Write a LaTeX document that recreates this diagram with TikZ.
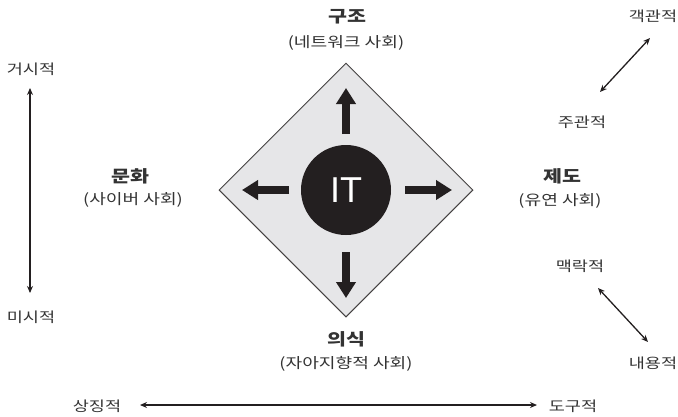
\documentclass[tikz,border=0pt]{standalone}
\usepackage{fontspec}
\usetikzlibrary{arrows.meta,shapes.geometric}
\newfontfamily\kr[FakeStretch=1.25]{Noto Sans CJK KR}
\definecolor{txt}{HTML}{333333}
\definecolor{ink}{HTML}{231F20}
\definecolor{dfill}{HTML}{E6E6E8}
\tikzset{
  title/.style={font=\kr\fontsize{16.5}{16.5}\selectfont\bfseries, text=txt, inner sep=0pt},
  sub/.style={font=\kr\fontsize{14.5}{14.5}\selectfont, text=txt, inner sep=0pt},
  axlab/.style={font=\kr\fontsize{14}{14}\selectfont, text=txt, inner sep=0pt},
  axis/.style={draw=ink, line width=1.3pt, {Stealth[length=7pt,width=6pt]}-{Stealth[length=7pt,width=6pt]}},
  bigarrow/.style={draw=ink, line width=8pt, -{Triangle[length=16pt,width=19pt]}},
}
\begin{document}
\begin{tikzpicture}[x=1pt,y=-1pt]
\useasboundingbox (0,0) rectangle (678,416);
% diamond and IT circle
\node[diamond, draw=ink!85, line width=1pt, fill=dfill, minimum width=254pt, minimum height=254pt, inner sep=0pt, aspect=1] (dia) at (346,190) {};
\node[circle, fill=ink, minimum size=90pt, inner sep=0pt, text=white, font=\fontspec{Liberation Sans}\fontsize{36}{36}\selectfont] (it) at (346,190) {IT};
\coordinate (up) at (346,88);
\coordinate (down) at (346,298);
\coordinate (left) at (242,190);
\coordinate (right) at (452,190);
\coordinate (upS) at (346,134);
\coordinate (downS) at (346,252);
\coordinate (leftS) at (289,190);
\coordinate (rightS) at (405,190);
\draw[bigarrow] (upS) -- (up);
\draw[bigarrow] (downS) -- (down);
\draw[bigarrow] (leftS) -- (left);
\draw[bigarrow] (rightS) -- (right);
% titles
\node[title] (t1) at (347,17) {구조};
\node[sub] (s1) at (346,43) {(네트워크 사회)};
\node[title] (t2) at (130,176) {문화};
\node[sub] (s2) at (133,200) {(사이버 사회)};
\node[title] (t3) at (562,176) {제도};
\node[sub] (s3) at (560,201) {(유연 사회)};
\node[title] (t4) at (346,339) {의식};
\node[sub] (s4) at (346,364) {(자아지향적 사회)};
% axis labels
\node[axlab] (geo) at (31,69) {거시적};
\node[axlab] (mic) at (31,317) {미시적};
\node[axlab] (obj) at (653,16) {객관적};
\node[axlab] (subj) at (582,122) {주관적};
\node[axlab] (ctx) at (580,266) {맥락적};
\node[axlab] (cont) at (653,363) {내용적};
\node[axlab] (sym) at (97,406) {상징적};
\node[axlab] (inst) at (573,406) {도구적};
\coordinate (a1) at (30,88);
\coordinate (a2) at (30,293);
\coordinate (b1) at (600,92);
\coordinate (b2) at (650,38);
\coordinate (c1) at (598,288);
\coordinate (c2) at (648,342);
\coordinate (d1) at (140,405);
\coordinate (d2) at (537,405);
\draw[axis] (a1) -- (a2);
\draw[axis] (b1) -- (b2);
\draw[axis] (c1) -- (c2);
\draw[axis] (d1) -- (d2);
\end{tikzpicture}
\end{document}
